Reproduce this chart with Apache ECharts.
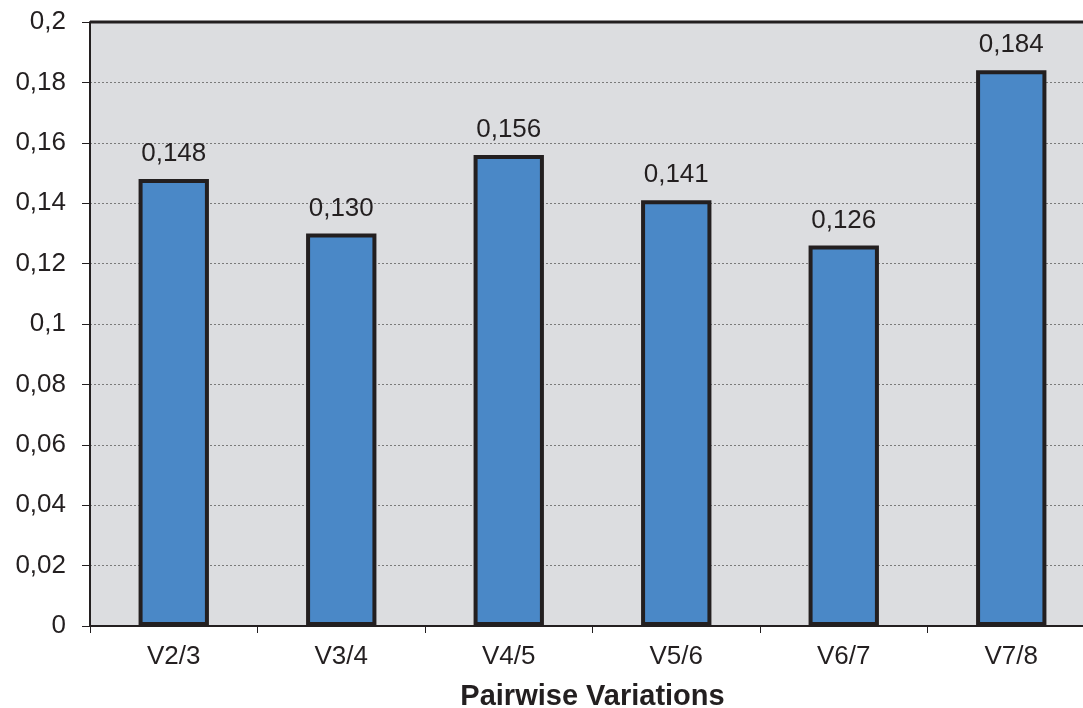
<!DOCTYPE html>
<html><head><meta charset="utf-8">
<script src="https://cdn.jsdelivr.net/npm/echarts@6/dist/echarts.min.js"></script>
<style>html,body{margin:0;padding:0;background:#fff}#c{width:1083px;height:708px}</style>
</head><body><div id="c"></div>
<script>
const categories = ["V2/3","V3/4","V4/5","V5/6","V6/7","V7/8"];
const values = [0.148,0.130,0.156,0.141,0.126,0.184];
const axisTitle = "Pairwise Variations";
const fmt = v => String(+v.toFixed(3)).replace('.', ',');
const FF = '"Liberation Sans", Arial, sans-serif';
const chart = echarts.init(document.getElementById('c'), null, {renderer:'canvas'});
chart.setOption({
  animation:false,
  textStyle:{fontFamily:FF},
  grid:{left:90, top:22, width:1005, height:604, show:true, backgroundColor:'#dcdde0', borderWidth:0, outerBoundsMode:'none', containLabel:false},
  xAxis:{
    type:'category', data:categories,
    name:axisTitle, nameLocation:'middle', nameGap:56,
    nameTextStyle:{fontSize:29, fontWeight:'bold', color:'#231f20', fontFamily:FF},
    axisLine:{lineStyle:{color:'#231f20', width:2}},
    axisTick:{show:true, length:7, lineStyle:{color:'#231f20', width:1}},
    axisLabel:{fontSize:26, color:'#231f20', margin:18, fontFamily:FF},
    splitLine:{show:false}
  },
  yAxis:{
    type:'value', min:0, max:0.2, interval:0.02,
    axisLine:{show:true, lineStyle:{color:'#231f20', width:2}},
    axisTick:{show:true, length:8, lineStyle:{color:'#231f20', width:1}},
    axisLabel:{fontSize:26, color:'#231f20', margin:24, fontFamily:FF, formatter:v=>fmt(v)},
    splitLine:{show:true, lineStyle:{color:'#7a7a7a', type:[2,2], width:1}}
  },
  series:[{
    type:'bar', data:values, barWidth:'42%',
    itemStyle:{color:'#4a88c7', borderColor:'#231f20', borderWidth:4},
    label:{show:true, position:'top', distance:12, fontSize:26, color:'#231f20', fontFamily:FF, formatter:p=>p.value.toFixed(3).replace('.', ',')}
  }],
  graphic:[{type:'line', shape:{x1:90, y1:22, x2:1083, y2:22}, style:{stroke:'#231f20', lineWidth:3}, z:100}]
});
</script></body></html>
